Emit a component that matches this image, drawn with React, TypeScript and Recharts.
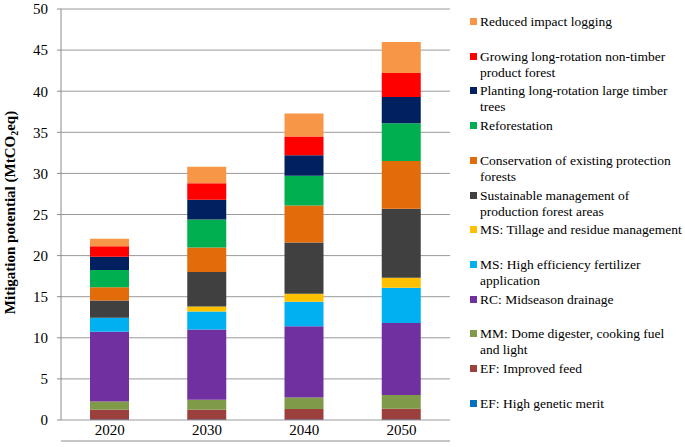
import React from "react";
import { BarChart, Bar, XAxis, YAxis, CartesianGrid } from "recharts";

const years = ["2020", "2030", "2040", "2050"];
const yTicks = [0, 5, 10, 15, 20, 25, 30, 35, 40, 45, 50];

const efHighGenetic = [0.05, 0.05, 0.05, 0.05];
const efImprovedFeed = [1.2, 1.2, 1.3, 1.33];
const mmDomeDigester = [1.0, 1.2, 1.4, 1.66];
const rcMidseason = [8.5, 8.55, 8.65, 8.76];
const msFertilizer = [1.7, 2.2, 3.0, 4.3];
const msTillage = [0, 0.6, 0.95, 1.2];
const sustainableMgmt = [2.1, 4.2, 6.25, 8.4];
const conservation = [1.6, 3.0, 4.5, 5.8];
const reforestation = [2.1, 3.4, 3.6, 4.6];
const plantingTimber = [1.6, 2.4, 2.5, 3.2];
const growingNonTimber = [1.3, 2.0, 2.3, 2.9];
const reducedLogging = [0.9, 2.0, 2.8, 3.8];

const seriesNames = [
  "EF: High genetic merit",
  "EF: Improved feed",
  "MM: Dome digester, cooking fuel and light",
  "RC: Midseason drainage",
  "MS: High efficiency fertilizer application",
  "MS: Tillage and residue management",
  "Sustainable management of production forest areas",
  "Conservation of existing protection forests",
  "Reforestation",
  "Planting long-rotation large timber trees",
  "Growing long-rotation non-timber product forest",
  "Reduced impact logging",
];

const legendLines = [
  ["EF: High genetic merit"],
  ["EF: Improved feed"],
  ["MM: Dome digester, cooking fuel", "and light"],
  ["RC: Midseason drainage"],
  ["MS: High efficiency fertilizer", "application"],
  ["MS: Tillage and residue management"],
  ["Sustainable management of", "production forest areas"],
  ["Conservation of existing protection", "forests"],
  ["Reforestation"],
  ["Planting long-rotation large timber", "trees"],
  ["Growing long-rotation non-timber", "product forest"],
  ["Reduced impact logging"],
];

const seriesValues = [
  efHighGenetic,
  efImprovedFeed,
  mmDomeDigester,
  rcMidseason,
  msFertilizer,
  msTillage,
  sustainableMgmt,
  conservation,
  reforestation,
  plantingTimber,
  growingNonTimber,
  reducedLogging,
];

const colors = [
  "#0070C0",
  "#9C403D",
  "#7F9A48",
  "#7030A0",
  "#00B0F0",
  "#FFC000",
  "#404040",
  "#E36C0A",
  "#00B050",
  "#002060",
  "#FF0000",
  "#F79646",
];

const data = years.map((y, i) => {
  const row: Record<string, any> = { year: y };
  seriesNames.forEach((n, k) => {
    row["s" + k] = seriesValues[k][i];
  });
  return row;
});

const FONT = '"Liberation Serif", "Times New Roman", serif';

const YLabel = (props: any) => {
  const vb = props.viewBox || {};
  const cx = 10;
  const cy = vb.y + vb.height / 2 - 2;
  return (
    <text
      x={cx}
      y={cy}
      transform={`rotate(-90, ${cx}, ${cy})`}
      textAnchor="middle"
      dominantBaseline="central"
      fontFamily={FONT}
      fontWeight="bold"
      fontSize={15}
      fill="#000"
    >
      Mitigation potential (MtCO
      <tspan fontSize={10} dy={4}>2</tspan>
      <tspan dy={-4}>eq)</tspan>
    </text>
  );
};

const LegendBox = () => {
  const order = seriesNames.map((_, k) => k).reverse();
  return (
    <div
      style={{
        position: "absolute",
        left: 470,
        top: 14,
        width: 215,
        fontFamily: FONT,
        fontSize: 13.5,
        color: "#000",
      }}
    >
      {order.map((k, idx) => (
        <div
          key={k}
          style={{ position: "absolute", left: 0, top: idx * 34.7, width: 215, lineHeight: "16px" }}
        >
          <span
            style={{
              position: "absolute",
              left: 0,
              top: 4,
              width: 7,
              height: 7,
              background: colors[k],
            }}
          />
          <div style={{ position: "absolute", left: 10, top: 0, whiteSpace: "nowrap" }}>
            {legendLines[k].map((l, j) => (
              <div key={j}>{l}</div>
            ))}
          </div>
        </div>
      ))}
    </div>
  );
};

export default function App() {
  return (
    <div style={{ position: "absolute", left: 0, top: 0, width: 685, height: 447, background: "#fff" }}>
      <BarChart
        width={685}
        height={447}
        data={data}
        margin={{ top: 9, right: 235, left: 0, bottom: 0 }}
        barSize={39}
      >
        <CartesianGrid vertical={false} stroke="#9a9a9a" strokeWidth={1} />
        <XAxis
          xAxisId="ticks"
          type="number"
          domain={[0, 4]}
          ticks={[0, 1, 2, 3, 4]}
          tick={false}
          tickSize={5}
          height={6}
          stroke="#8c8c8c"
          allowDataOverflow
        />
        <XAxis
          xAxisId="cat"
          dataKey="year"
          axisLine={false}
          tickLine={false}
          height={21}
          tickSize={0}
          tickMargin={4}
          tick={{ fontFamily: FONT, fontSize: 15, fill: "#000" }}
        />
        <YAxis
          domain={[0, 50]}
          ticks={yTicks}
          width={61}
          stroke="#8c8c8c"
          tickSize={4}
          tickMargin={9}
          tick={{ fontFamily: FONT, fontSize: 15, fill: "#000" }}
          label={<YLabel />}
        />
        {seriesNames.map((n, k) => (
          <Bar
            key={k}
            xAxisId="cat"
            dataKey={"s" + k}
            name={n}
            stackId="a"
            fill={colors[k]}
            isAnimationActive={false}
          />
        ))}
      </BarChart>
      <LegendBox />
    </div>
  );
}
